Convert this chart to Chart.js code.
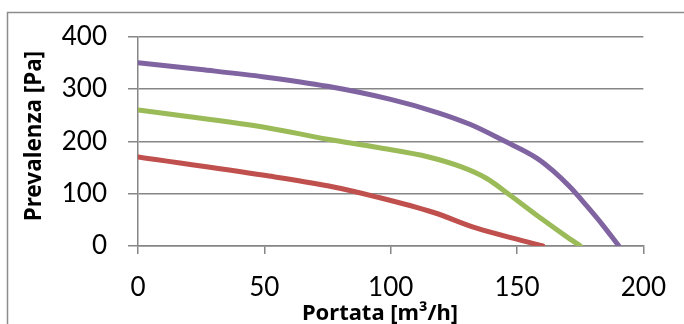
<!DOCTYPE html>
<html>
<head>
<meta charset="utf-8">
<script src="https://cdn.jsdelivr.net/npm/chart.js@4"></script>
<style>
  html, body { margin: 0; padding: 0; background: #fff; }
  #wrap { width: 684px; height: 324px; position: relative; }
</style>
</head>
<body>
<div id="wrap"><canvas id="curveChart" width="684" height="324"></canvas></div>
<script>
// Curve caratteristiche - Prevalenza vs Portata
const purpleX = [0, 25, 50, 75, 100, 118.5, 131.6, 144.8, 157.8, 164.4, 170.9, 177.5, 184, 190.3];
const purpleY = [350, 337, 323, 305, 280, 255, 232, 201, 168, 143, 113, 77, 39.5, 0];
const greenX = [0, 50, 75, 95, 115, 128, 138, 147, 160, 169.6, 175.1];
const greenY = [260, 227, 204, 188, 170, 151, 129, 98, 51, 18, 0];
const redX = [0, 50, 75, 95, 117, 134, 154, 160.2];
const redY = [170, 135, 115, 93, 64, 34, 8, 0];

const xTitle = 'Portata [m³/h]';
const yTitle = 'Prevalenza [Pa]';

function toPoints(xs, ys) {
  return xs.map((x, i) => ({ x: x, y: ys[i] }));
}

const gridColor = '#868686';

// draws the outer frame and the two axis titles
const framePlugin = {
  id: 'frame',
  beforeDraw(chart) {
    const c = chart.ctx;
    c.save();
    c.strokeStyle = '#8c8c8c';
    c.lineWidth = 1.5;
    c.strokeRect(7.5, 12.5, 720, 400);
    c.restore();
  },
  afterDraw(chart) {
    const c = chart.ctx;
    c.save();
    c.fillStyle = '#000';
    c.textAlign = 'center';
    c.textBaseline = 'middle';
    c.font = 'bold 22px "Noto Sans"';
    c.fillText(xTitle, 380, 314);
    c.translate(35, 136);
    c.rotate(-Math.PI / 2);
    c.font = 'bold 22.5px "Noto Sans"';
    c.fillText(yTitle, 0, 0);
    c.restore();
  }
};

const ctx = document.getElementById('curveChart').getContext('2d');
const curveChart = new Chart(ctx, {
  type: 'scatter',
  data: {
    datasets: [
      {
        label: 'Serie 1',
        data: toPoints(redX, redY),
        borderColor: '#C0504D',
        backgroundColor: '#C0504D'
      },
      {
        label: 'Serie 2',
        data: toPoints(greenX, greenY),
        borderColor: '#9BBB59',
        backgroundColor: '#9BBB59'
      },
      {
        label: 'Serie 3',
        data: toPoints(purpleX, purpleY),
        borderColor: '#8064A2',
        backgroundColor: '#8064A2'
      }
    ]
  },
  options: {
    responsive: false,
    animation: false,
    devicePixelRatio: 1,
    datasets: {
      scatter: {
        showLine: true,
        pointRadius: 0,
        borderWidth: 5,
        borderCapStyle: 'round',
        borderJoinStyle: 'round',
        cubicInterpolationMode: 'monotone'
      }
    },
    layout: {
      padding: { top: 31, right: 36, left: 0, bottom: 0 }
    },
    plugins: {
      legend: { display: false },
      tooltip: { enabled: false }
    },
    scales: {
      x: {
        type: 'linear',
        min: 0,
        max: 200,
        afterFit: function(scale) { scale.height = 78; },
        ticks: {
          stepSize: 50,
          padding: 18,
          color: '#000',
          font: { family: 'Lato', size: 26 }
        },
        grid: {
          drawOnChartArea: false,
          tickLength: 8,
          color: gridColor,
          lineWidth: 1.5
        },
        border: { color: gridColor, width: 1.5 }
      },
      y: {
        min: 0,
        max: 400,
        afterFit: function(scale) { scale.width = 138; },
        ticks: {
          stepSize: 100,
          padding: 21,
          color: '#000',
          font: { family: 'Lato', size: 26 }
        },
        grid: {
          tickLength: 10,
          color: gridColor,
          lineWidth: 1.5
        },
        border: { color: gridColor, width: 1.5 }
      }
    }
  },
  plugins: [framePlugin]
});
</script>
</body>
</html>
